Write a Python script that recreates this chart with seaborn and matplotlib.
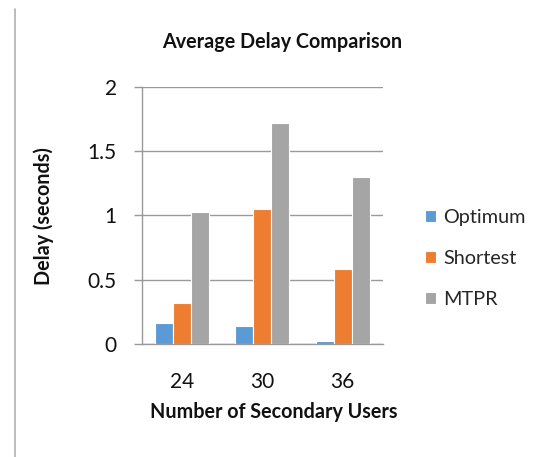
import matplotlib
matplotlib.use("Agg")
import matplotlib.pyplot as plt
from matplotlib.ticker import FuncFormatter
from matplotlib.lines import Line2D
import seaborn as sns
import pandas as pd

# Average delay (seconds) per routing scheme and number of secondary users
users = ["24", "30", "36"]
schemes = ["Optimum", "Shortest", "MTPR"]
optimum = [0.163, 0.142, 0.023]
shortest = [0.32, 1.053, 0.582]
mtpr = [1.025, 1.716, 1.297]
y_ticks = [0, 0.5, 1, 1.5, 2]
colors = ["#5B9BD5", "#ED7D31", "#A5A5A5"]

df = pd.DataFrame({
    "users": users * 3,
    "scheme": [s for s in schemes for _ in users],
    "delay": optimum + shortest + mtpr,
})

sns.set_theme(style="white")
plt.rcParams["font.family"] = ["Lato", "DejaVu Sans"]

fig = plt.figure(figsize=(5.43, 4.57), dpi=100)
ax = fig.add_axes([0.261, 0.2466, 0.444, 0.5637])

sns.barplot(data=df, x="users", y="delay", hue="scheme", order=users,
            hue_order=schemes, palette=colors, saturation=1, width=0.675,
            edgecolor="white", linewidth=0.8, ax=ax, zorder=3)

grid_c = "#9a9a9a"
ax.set_ylim(0, 2)
ax.set_yticks(y_ticks)
ax.yaxis.set_major_formatter(FuncFormatter(lambda v, p: f"{v:g}"))
ax.set_xlim(-0.5, 2.5)
ax.grid(axis="y", color=grid_c, linewidth=1.0, zorder=0)
ax.set_axisbelow(True)
for side in ["top", "right"]:
    ax.spines[side].set_visible(False)
for side in ["left", "bottom"]:
    ax.spines[side].set_color(grid_c)
    ax.spines[side].set_linewidth(1.0)
ax.tick_params(axis="y", left=True, length=6, width=1.0, color=grid_c,
               pad=12, labelsize=15, labelcolor="#111111")
ax.tick_params(axis="x", bottom=False, pad=14, labelsize=15,
               labelcolor="#111111")
ax.set_xlabel("")
ax.set_ylabel("")

sns.move_legend(ax, "center left", bbox_to_anchor=(425 / 543, 0.434),
                bbox_transform=fig.transFigure, frameon=False, title=None,
                fontsize=14.3, handlelength=0.55, handleheight=0.55,
                handletextpad=0.35, labelspacing=1.2, borderpad=0,
                borderaxespad=0)

fig.text(282 / 543, 1 - 48.3 / 457, "Average Delay Comparison",
         ha="center", va="baseline", fontsize=14.2, fontweight="bold",
         color="#111111")
fig.text(273.7 / 543, 1 - 418.3 / 457, "Number of Secondary Users",
         ha="center", va="baseline", fontsize=14.2, fontweight="bold",
         color="#111111")
fig.text(44 / 543, 0.528, "Delay (seconds)", rotation=90,
         ha="center", va="center", fontsize=14.2, fontweight="bold",
         color="#111111")

# thin border line on the left side of the figure
fig.add_artist(Line2D([14.7 / 543, 14.7 / 543], [0, 1 - 9 / 457],
                      transform=fig.transFigure, color="#b0b0b0",
                      linewidth=1.2))

fig.savefig("out.png", dpi=100)
